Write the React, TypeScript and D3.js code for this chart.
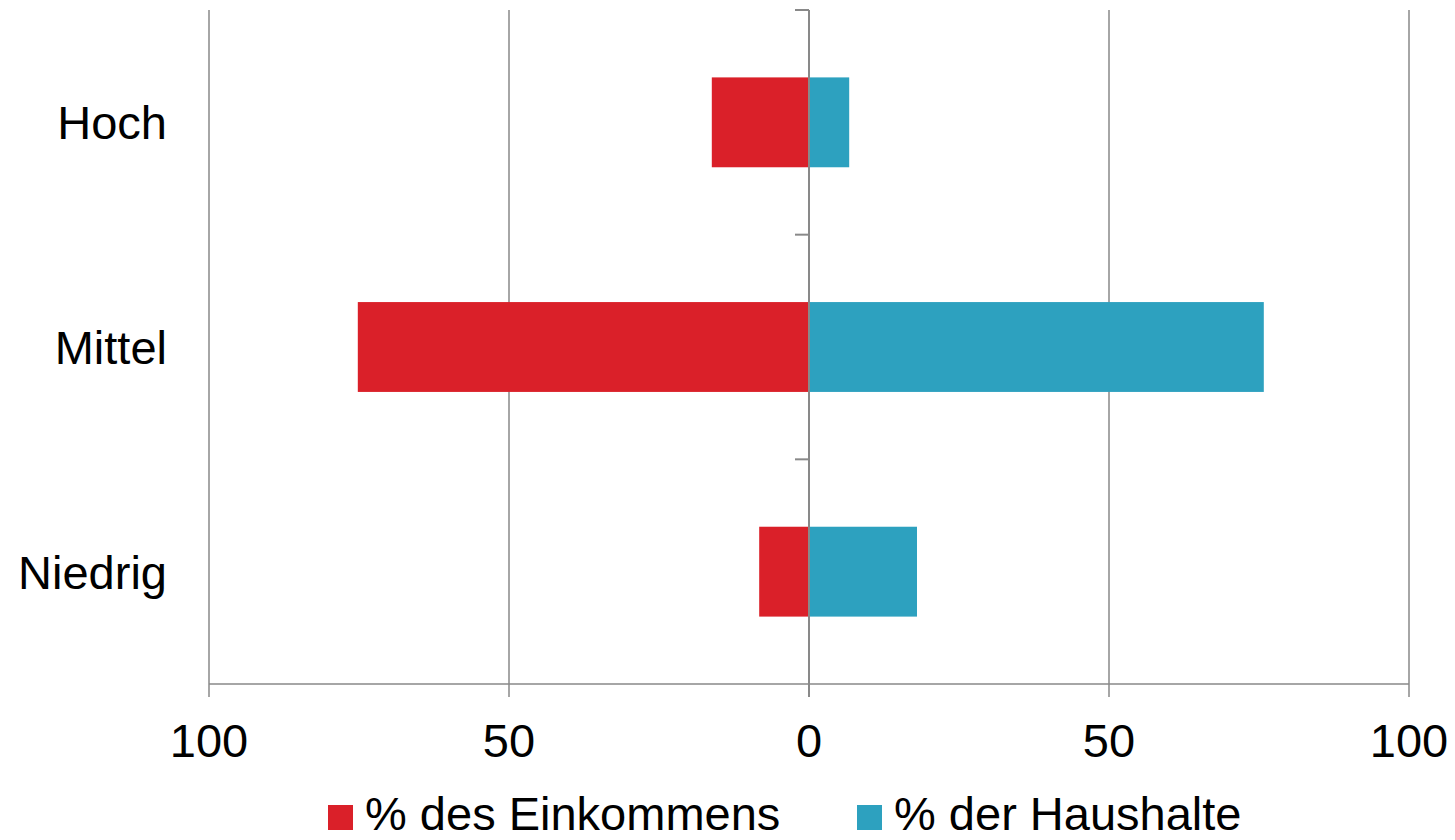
import React from "react";
import * as d3 from "d3";

const categories = ["Hoch", "Mittel", "Niedrig"];
const einkommen = [16.2, 75.2, 8.3];
const haushalte = [6.7, 75.8, 18.0];
const xTicks = [-100, -50, 0, 50, 100];
const seriesNames = ["% des Einkommens", "% der Haushalte"];
const colors = ["#DA2029", "#2DA1BF"];

const W = 1455;
const H = 840;
const FONT = "'Liberation Sans', Arial, sans-serif";

export default function App() {
  const x = d3.scaleLinear().domain([-100, 100]).range([209, 1409]);
  const y = d3
    .scaleBand<string>()
    .domain(categories)
    .range([10, 684])
    .paddingInner(0.6)
    .paddingOuter(0.3);
  const step = y.step();
  const top = 10;
  const bottom = 684;
  const grid = "#898989";
  const boundaries = categories.map((c) => (y(c) as number) - (step - y.bandwidth()) / 2);

  return (
    <svg
      width={W}
      height={H}
      style={{ position: "absolute", left: 0, top: 0, background: "#fff" }}
      fontFamily={FONT}
    >
      {xTicks
        .filter((t) => t !== 0)
        .map((t) => (
          <line key={t} x1={x(t)} x2={x(t)} y1={top} y2={bottom + 13} stroke={grid} strokeWidth={1.5} />
        ))}
      <line x1={x(-100)} x2={x(100)} y1={bottom} y2={bottom} stroke={grid} strokeWidth={1.5} />
      {categories.map((c, i) => (
        <g key={c}>
          <rect
            x={x(-einkommen[i])}
            y={y(c)}
            width={x(0) - x(-einkommen[i])}
            height={y.bandwidth()}
            fill={colors[0]}
          />
          <rect
            x={x(0)}
            y={y(c)}
            width={x(haushalte[i]) - x(0)}
            height={y.bandwidth()}
            fill={colors[1]}
          />
        </g>
      ))}
      <line x1={x(0)} x2={x(0)} y1={top} y2={bottom + 13} stroke={grid} strokeWidth={2} />
      {boundaries.map((b, i) => (
        <line key={i} x1={x(0) - 14} x2={x(0)} y1={b} y2={b} stroke={grid} strokeWidth={2} />
      ))}
      {xTicks.map((t) => (
        <text key={t} x={x(t)} y={757} textAnchor="middle" fontSize={47} fill="#000">
          {Math.abs(t)}
        </text>
      ))}
      {categories.map((c) => (
        <text
          key={c}
          x={167}
          y={(y(c) as number) + y.bandwidth() / 2 + 17}
          textAnchor="end"
          fontSize={47}
          fill="#000"
        >
          {c}
        </text>
      ))}
      {[0, 1].map((i) => {
        const lx = i === 0 ? 328 : 857;
        return (
          <g key={i}>
            <rect x={lx} y={805} width={25} height={25} fill={colors[i]} />
            <text x={lx + 37} y={830} fontSize={47} fill="#000">
              {seriesNames[i]}
            </text>
          </g>
        );
      })}
    </svg>
  );
}
